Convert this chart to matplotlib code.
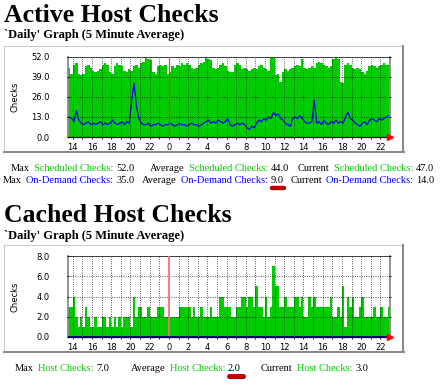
import numpy as np
import matplotlib
matplotlib.use('Agg')
import matplotlib.pyplot as plt
from matplotlib.lines import Line2D
from matplotlib.text import Annotation

W, H = 448, 389
DPI = 100

# 15 minute samples, hours counted from midnight of the first day
t_start = 13.5
step = 0.25

scheduled = [45, 41, 47, 48, 41, 40, 41, 46, 47, 45,
             43, 42, 43, 44, 47, 48, 47, 42, 41, 46,
             48, 47, 46, 43, 42, 44, 43, 46, 47, 45,
             48, 49, 52, 51, 50, 42, 41, 46, 47, 46,
             47, 41, 42, 46, 45, 47, 46, 48, 47, 48,
             47, 45, 44, 45, 47, 48, 49, 52, 51, 50,
             45, 44, 45, 47, 48, 46, 43, 42, 42, 47,
             48, 47, 44, 45, 44, 43, 44, 45, 44, 46,
             47, 45, 44, 43, 52, 52, 40, 41, 36, 42,
             44, 43, 44, 45, 46, 47, 46, 51, 45, 44,
             45, 46, 45, 48, 49, 48, 47, 46, 45, 46,
             51, 52, 51, 36, 35, 47, 48, 47, 45, 44,
             45, 44, 42, 41, 43, 46, 47, 46, 45, 46,
             47, 48, 47, 47]

on_demand = [13, 12, 10, 17, 11, 9, 8, 9, 10, 8,
             9, 8, 9, 10, 8, 9, 8, 9, 11, 9,
             8, 9, 10, 8, 10, 9, 24, 35, 20, 12,
             9, 8, 8, 9, 7, 8, 8, 9, 8, 7,
             8, 8, 9, 8, 7, 8, 9, 8, 8, 7,
             8, 9, 8, 8, 7, 8, 9, 10, 11, 9,
             10, 9, 11, 10, 9, 10, 12, 8, 7, 8,
             9, 8, 9, 8, 6, 5, 7, 6, 9, 11,
             10, 12, 11, 13, 12, 16, 14, 15, 12, 11,
             9, 8, 7, 12, 13, 12, 14, 12, 10, 9,
             9, 10, 24, 9, 10, 8, 11, 9, 8, 10,
             9, 11, 9, 10, 9, 13, 16, 12, 11, 9,
             8, 7, 9, 10, 8, 11, 12, 11, 10, 12,
             11, 12, 13, 14]

cached = [3, 3, 4, 2, 1, 2, 1, 3, 2, 1,
          1, 2, 1, 1, 2, 2, 1, 2, 1, 2,
          1, 2, 1, 2, 2, 2, 1, 4, 2, 3,
          3, 2, 2, 3, 2, 2, 2, 3, 3, 3,
          2, 2, 2, 2, 2, 2, 3, 3, 3, 3,
          3, 2, 3, 2, 2, 3, 2, 2, 2, 3,
          2, 2, 2, 4, 4, 3, 3, 3, 2, 2,
          3, 3, 4, 4, 3, 4, 4, 3, 5, 3,
          3, 2, 4, 2, 3, 7, 5, 5, 3, 3,
          4, 3, 3, 3, 4, 4, 3, 4, 2, 2,
          4, 3, 4, 3, 3, 3, 3, 3, 3, 4,
          2, 2, 3, 2, 5, 1, 4, 3, 4, 2,
          2, 3, 4, 2, 2, 2, 2, 3, 2, 2,
          3, 2, 2, 3]

hour_ticks = list(range(14, 47, 2))
hour_labels = [str(h % 24) for h in hour_ticks]

active_yticks = [0, 13, 26, 39, 52]
cached_yticks = [0, 2, 4, 6, 8]

GREEN = '#00cc00'
BLUE = '#0000ff'

fig = plt.figure(figsize=(W / DPI, H / DPI), dpi=DPI)
fig.patch.set_facecolor('white')


def fx(x):
    return x / W


def fy(y):
    return 1 - y / H


def px2pt(p):
    return p * 72.0 / DPI


serif = 'Liberation Serif'


def frame(top, bottom):
    # light border top/left, dark shadow right/bottom
    fig.add_artist(Line2D([fx(4), fx(403)], [fy(top), fy(top)], color='#c8c8c8', lw=px2pt(1)))
    fig.add_artist(Line2D([fx(4), fx(4)], [fy(top), fy(bottom)], color='#c8c8c8', lw=px2pt(1)))
    fig.add_artist(Line2D([fx(403), fx(403)], [fy(top), fy(bottom)], color='#8a8a8a', lw=px2pt(2)))
    fig.add_artist(Line2D([fx(4), fx(404)], [fy(bottom), fy(bottom)], color='#8a8a8a', lw=px2pt(2)))


def make_axes(top, bottom, ymax, yticks, midnight):
    ax = fig.add_axes([fx(68), fy(bottom), (390 - 68) / W, (bottom - top) / H])
    ax.set_xlim(13.5, 47.0)
    ax.set_ylim(0, ymax)
    ax.set_xticks(hour_ticks)
    ax.set_xticklabels(hour_labels)
    ax.set_xticks(range(14, 47), minor=True)
    ax.set_yticks(yticks)
    ax.set_yticklabels(['%.1f' % v for v in yticks])
    ax.tick_params(axis='x', which='both', direction='out', length=1.5, width=0.6,
                   pad=2.5, labelsize=6, colors='black')
    ax.tick_params(axis='y', direction='inout', length=2, width=0.6, pad=12,
                   labelsize=6, right=True)
    ax.grid(True, which='both', axis='x', color='black', lw=0.55, ls=(0, (1, 2)))
    ax.grid(True, which='major', axis='y', color='black', lw=0.55, ls=(0, (1, 2)))
    ax.set_axisbelow(False)
    for s in ['left', 'right']:
        ax.spines[s].set_color('#8a8a8a')
        ax.spines[s].set_linewidth(1.3)
    ax.spines['top'].set_color('#555555')
    ax.spines['top'].set_linewidth(0.7)
    ax.spines['bottom'].set_color('#000040')
    ax.spines['bottom'].set_linewidth(0.9)
    ax.axvline(24, zorder=3, **midnight)
    ax.plot([47.0], [0], marker='>', color='red', markersize=4, clip_on=False, zorder=5)
    fig.text(fx(15), fy((top + bottom) / 2), 'Checks', rotation=90, ha='center',
             va='center', fontsize=6)
    return ax


def stat(x, y, prefix, label, value, color):
    kw = dict(family=serif, fontsize=7.5)
    fig.text(fx(x), fy(y), value, ha='left', va='baseline', color='black', **kw)
    lab = fig.text(fx(x - 3), fy(y), label, ha='right', va='baseline', color=color, **kw)
    fig.add_artist(Annotation(prefix, xy=(0, 0), xycoords=lab, xytext=(-4, 0),
                              textcoords='offset pixels', ha='right', va='bottom',
                              color='black', **kw))


edges = t_start + step * np.arange(len(scheduled) + 1)
centers = t_start + step * (np.arange(len(scheduled)) + 0.5)

# ---- Active Host Checks ----
fig.text(fx(4), fy(22), 'Active Host Checks', family=serif, fontweight='bold',
         fontsize=18.5, va='baseline')
fig.text(fx(4), fy(38), "`Daily' Graph (5 Minute Average)", family=serif,
         fontweight='bold', fontsize=9, va='baseline')
frame(46, 152)
ax1 = make_axes(57, 137, 52, active_yticks,
                dict(color='#ff3030', lw=0.9, alpha=0.85))
ax1.fill_between(edges, np.append(scheduled, scheduled[-1]), step='post',
                 color=GREEN, lw=0, zorder=1)
ax1.plot(centers, on_demand, color=BLUE, lw=0.9, zorder=2)

stat(116, 171, 'Max', 'Scheduled Checks:', '52.0', GREEN)
stat(271, 171, 'Average', 'Scheduled Checks:', '44.0', GREEN)
stat(416, 171, 'Current', 'Scheduled Checks:', '47.0', GREEN)
stat(116, 183, 'Max', 'On-Demand Checks:', '35.0', BLUE)
stat(271, 183, 'Average', 'On-Demand Checks:', '9.0', BLUE)
stat(416, 183, 'Current', 'On-Demand Checks:', '14.0', BLUE)
fig.add_artist(Line2D([fx(272), fx(284)], [fy(188), fy(188)], color='#c00000',
                      lw=3.2, solid_capstyle='round'))

# ---- Cached Host Checks ----
fig.text(fx(4), fy(222), 'Cached Host Checks', family=serif, fontweight='bold',
         fontsize=18.5, va='baseline')
fig.text(fx(4), fy(239), "`Daily' Graph (5 Minute Average)", family=serif,
         fontweight='bold', fontsize=9, va='baseline')
frame(245, 352)
ax2 = make_axes(256, 337, 8, cached_yticks,
                dict(color='#ff7070', lw=1.4, alpha=0.9))
ax2.fill_between(edges, np.append(cached, cached[-1]), step='post',
                 color=GREEN, lw=0, zorder=1)
ax2.axhline(0, color='#000080', lw=1.4, zorder=4)

stat(96, 371, 'Max', 'Host Checks:', '7.0', GREEN)
stat(228, 371, 'Average', 'Host Checks:', '2.0', GREEN)
stat(355, 371, 'Current', 'Host Checks:', '3.0', GREEN)
fig.add_artist(Line2D([fx(229), fx(243)], [fy(376), fy(376)], color='#c00000',
                      lw=3.6, solid_capstyle='round'))

fig.savefig('out.png', dpi=DPI, facecolor='white')
